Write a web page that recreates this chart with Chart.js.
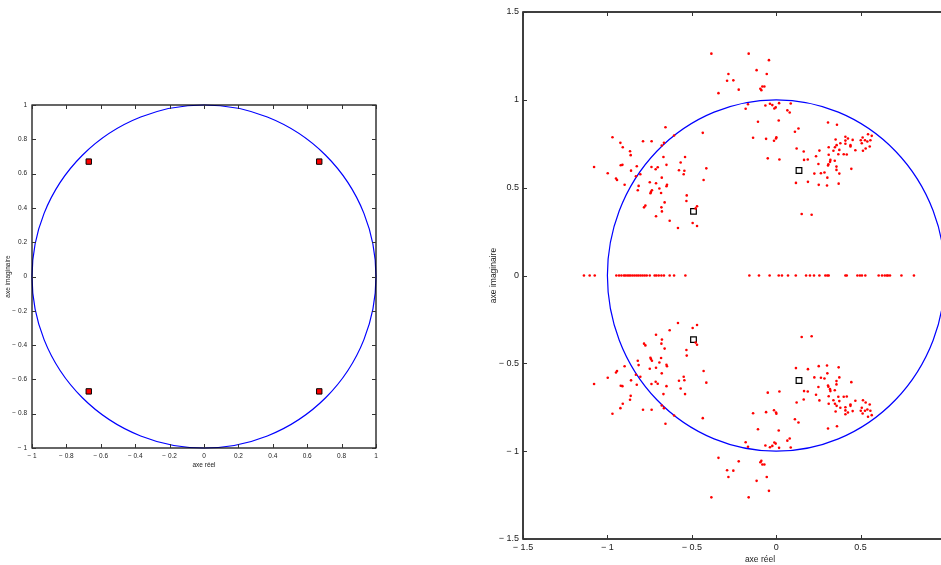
<!DOCTYPE html>
<html>
<head>
<meta charset="utf-8">
<script src="https://cdn.jsdelivr.net/npm/chart.js@4.4.0/dist/chart.umd.min.js"></script>
<style>
  html, body { margin: 0; padding: 0; background: #fff; width: 941px; height: 565px; overflow: hidden; }
  canvas { position: absolute; top: 0; }
  #left { left: 0; }
  #right { left: 460px; }
</style>
</head>
<body>
<canvas id="left" width="460" height="565"></canvas>
<canvas id="right" width="500" height="565"></canvas>
<script>
// ---- data ----
// left plot: reference poles
const refRe = [-0.67, 0.67, -0.67, 0.67];
const refIm = [0.67, 0.67, -0.67, -0.67];

// right plot: true poles (upper half, conjugates below)
const trueRe = [-0.49, 0.135];
const trueIm = [0.365, 0.598];

// right plot: estimated roots, upper half plane
const rootsRe = [
  -0.656, -0.970, -0.435, -0.605, -0.789, -0.738, -0.923, -0.909, -0.678, -0.665,
  -0.866, -0.862, -0.668, -0.540, -0.566, -1.079, -0.921, -0.911, -0.826, -0.739,
  -0.714, -0.702, -0.650, -0.414, -0.576, -0.544, -0.860, -0.998, -0.805, -0.548,
  -0.831, -0.949, -0.943, -0.678, -0.430, -0.749, -0.712, -0.647, -0.650, -0.898,
  -0.815, -0.692, -0.736, -0.742, -0.745, -0.820, -0.682, -0.530, -0.532, -0.661,
  -0.775, -0.783, -0.680, -0.469, -0.477, -0.677, -0.712, -0.631, -0.495, -0.582,
  -0.469,
  -0.384, -0.163, -0.043, -0.116, -0.283, -0.056, -0.291, -0.254, -0.082, -0.070,
  -0.094, -0.088, -0.222, -0.342, -0.167, -0.181, -0.064, -0.037, -0.023, -0.003,
  -0.011, 0.017, 0.086, 0.066, 0.080, -0.108, 0.015, 0.307, 0.360, 0.132,
  0.111, -0.137, -0.060, 0.001, -0.001, -0.013, 0.352, 0.410, 0.425, 0.410,
  0.453, 0.380, 0.410, 0.440, 0.440, 0.544, 0.566, 0.512, 0.501, 0.526,
  0.540, 0.558, 0.507, 0.554, 0.530, 0.514, 0.469, 0.358, 0.348, 0.311,
  0.374, 0.339, 0.121, 0.163, 0.256, 0.311, 0.368, 0.400, 0.418, 0.236,
  -0.050, 0.019, 0.165, 0.187, 0.321, 0.319, 0.347, 0.250, 0.309, 0.307,
  0.357, 0.357, 0.445, 0.226, 0.265, 0.286, 0.374, 0.303, 0.117, 0.188,
  0.252, 0.301, 0.370, 0.151, 0.210
];
const rootsIm = [
  0.844, 0.787, 0.812, 0.797, 0.764, 0.764, 0.755, 0.730, 0.740, 0.755,
  0.707, 0.685, 0.675, 0.675, 0.643, 0.618, 0.628, 0.630, 0.622, 0.618,
  0.605, 0.616, 0.630, 0.610, 0.599, 0.596, 0.597, 0.582, 0.576, 0.576,
  0.565, 0.552, 0.544, 0.557, 0.544, 0.531, 0.525, 0.517, 0.508, 0.517,
  0.510, 0.495, 0.485, 0.476, 0.468, 0.485, 0.470, 0.456, 0.424, 0.416,
  0.398, 0.388, 0.388, 0.394, 0.382, 0.365, 0.337, 0.312, 0.299, 0.270,
  0.282,
  1.263, 1.263, 1.226, 1.169, 1.147, 1.147, 1.109, 1.111, 1.076, 1.076,
  1.063, 1.055, 1.058, 1.038, 0.975, 0.949, 0.968, 0.978, 0.970, 0.957,
  0.951, 0.981, 0.979, 0.940, 0.928, 0.875, 0.882, 0.871, 0.858, 0.837,
  0.818, 0.784, 0.778, 0.787, 0.780, 0.767, 0.774, 0.790, 0.780, 0.768,
  0.772, 0.753, 0.750, 0.742, 0.734, 0.804, 0.795, 0.786, 0.770, 0.770,
  0.763, 0.770, 0.753, 0.734, 0.723, 0.710, 0.713, 0.742, 0.730, 0.730,
  0.715, 0.710, 0.723, 0.706, 0.711, 0.687, 0.690, 0.690, 0.689, 0.679,
  0.667, 0.660, 0.658, 0.660, 0.658, 0.647, 0.653, 0.635, 0.633, 0.626,
  0.620, 0.601, 0.607, 0.580, 0.582, 0.586, 0.580, 0.557, 0.527, 0.533,
  0.516, 0.512, 0.523, 0.350, 0.346
];
// right plot: estimated roots lying on the real axis
const realRoots = [
  -1.139, -1.105, -1.075, -0.947, -0.931, -0.917, -0.902, -0.893, -0.882, -0.872,
  -0.862, -0.850, -0.838, -0.826, -0.815, -0.803, -0.791, -0.779, -0.767, -0.749,
  -0.720, -0.710, -0.696, -0.680, -0.665, -0.631, -0.605, -0.538, -0.159, -0.102,
  -0.039, 0.015, 0.034, 0.070, 0.116, 0.177, 0.200, 0.224, 0.256, 0.291,
  0.303, 0.311, 0.410, 0.418, 0.481, 0.496, 0.508, 0.528, 0.607, 0.627,
  0.643, 0.655, 0.662, 0.674, 0.742, 0.816
];

const unitRadius = 1;
const leftTicks = [-1, -0.8, -0.6, -0.4, -0.2, 0, 0.2, 0.4, 0.6, 0.8, 1];
const rightXTicks = [-1.5, -1, -0.5, 0, 0.5, 1];
const rightYTicks = [-1.5, -1, -0.5, 0, 0.5, 1, 1.5];
const xTitle = 'axe réel';
const yTitle = 'axe imaginaire';

// ---- helpers ----
const pts = (xs, ys) => xs.map((v, i) => ({ x: v, y: ys[i] }));
const fmt = v => {
  const s = String(Math.round(v * 10) / 10);
  return s.startsWith('-') ? '\u2212 ' + s.slice(1) : s;
};

function framePlugin(o) {
  return {
    id: 'frame',
    beforeDatasetsDraw(chart) {
      const { ctx, scales: { x, y } } = chart;
      const cx = x.getPixelForValue(0), cy = y.getPixelForValue(0);
      ctx.save();
      ctx.beginPath();
      ctx.ellipse(cx, cy, x.getPixelForValue(unitRadius) - cx, cy - y.getPixelForValue(unitRadius), 0, 0, Math.PI * 2);
      ctx.strokeStyle = '#0000ff';
      ctx.lineWidth = o.circleWidth;
      ctx.stroke();
      ctx.restore();
    },
    afterDraw(chart) {
      const { ctx, chartArea: a, scales: { x, y } } = chart;
      ctx.save();
      ctx.strokeStyle = '#000';
      ctx.lineWidth = o.frameWidth;
      ctx.strokeRect(a.left, a.top, a.right - a.left, a.bottom - a.top);
      ctx.lineWidth = 1;
      ctx.strokeStyle = '#333';
      ctx.beginPath();
      x.ticks.forEach(t => {
        const p = Math.round(x.getPixelForValue(t.value)) + 0.5;
        ctx.moveTo(p, a.bottom); ctx.lineTo(p, a.bottom - o.tick);
        ctx.moveTo(p, a.top); ctx.lineTo(p, a.top + o.tick);
      });
      y.ticks.forEach(t => {
        const p = Math.round(y.getPixelForValue(t.value)) + 0.5;
        ctx.moveTo(a.left, p); ctx.lineTo(a.left + o.tick, p);
        ctx.moveTo(a.right, p); ctx.lineTo(a.right - o.tick, p);
      });
      ctx.stroke();
      // axis titles
      ctx.fillStyle = '#222';
      ctx.font = o.titleFont;
      ctx.textAlign = 'center';
      ctx.textBaseline = 'middle';
      ctx.fillText(xTitle, o.xTitleX, o.xTitleY);
      ctx.translate(o.yTitleX, (a.top + a.bottom) / 2);
      ctx.rotate(-Math.PI / 2);
      ctx.fillText(yTitle, 0, 0);
      ctx.restore();
    }
  };
}

function axis(min, max, ticks, size, font, pad, isX) {
  return {
    type: 'linear', min, max,
    afterBuildTicks: s => { s.ticks = ticks.map(v => ({ value: v })); },
    afterFit: s => { if (isX) s.height = size; else s.width = size; },
    grid: { display: false, drawTicks: false },
    border: { display: false },
    ticks: {
      autoSkip: false, maxRotation: 0, padding: pad, color: '#222',
      font: { family: 'Liberation Sans, Arial, sans-serif', size: font },
      callback: v => fmt(v)
    }
  };
}

Chart.defaults.animation = false;

// ---- left chart ----
new Chart(document.getElementById('left'), {
  type: 'scatter',
  data: {
    datasets: [{
      data: pts(refRe, refIm),
      pointStyle: 'rect', pointRadius: 3.8,
      backgroundColor: '#ff0000', borderColor: '#000', borderWidth: 1
    }]
  },
  options: {
    responsive: false,
    layout: { padding: { left: 0, top: 105, right: 84, bottom: 97 } },
    plugins: { legend: { display: false }, tooltip: { enabled: false } },
    scales: {
      x: axis(-1, 1, leftTicks, 20, 6.5, 4, true),
      y: axis(-1, 1, leftTicks, 32, 6.5, 5, false)
    }
  },
  plugins: [framePlugin({ circleWidth: 1.2, frameWidth: 1.2, tick: 4,
    titleFont: '6.5px Liberation Sans, Arial, sans-serif', xTitleX: 204, xTitleY: 465, yTitleX: 8 })]
});

// ---- right chart ----
const lowerIm = rootsIm.map(v => -v);
new Chart(document.getElementById('right'), {
  type: 'scatter',
  data: {
    datasets: [
      {
        data: pts(rootsRe, rootsIm).concat(pts(rootsRe, lowerIm), realRoots.map(v => ({ x: v, y: 0 }))),
        pointStyle: 'circle', pointRadius: 1.3, borderWidth: 0,
        backgroundColor: '#ff0000'
      },
      {
        data: pts(trueRe, trueIm).concat(pts(trueRe, trueIm.map(v => -v))),
        pointStyle: 'rect', pointRadius: 4,
        backgroundColor: 'rgba(0,0,0,0)', borderColor: '#000', borderWidth: 1.2
      }
    ]
  },
  options: {
    responsive: false,
    layout: { padding: { left: 0, top: 12, right: 15, bottom: 6 } },
    plugins: { legend: { display: false }, tooltip: { enabled: false } },
    scales: {
      x: axis(-1.5, 1, rightXTicks, 20, 9, 3, true),
      y: axis(-1.5, 1.5, rightYTicks, 63, 9, 4, false)
    }
  },
  plugins: [framePlugin({ circleWidth: 1.2, frameWidth: 1.5, tick: 4,
    titleFont: '8.5px Liberation Sans, Arial, sans-serif', xTitleX: 300, xTitleY: 560, yTitleX: 34 })]
});
</script>
</body>
</html>
